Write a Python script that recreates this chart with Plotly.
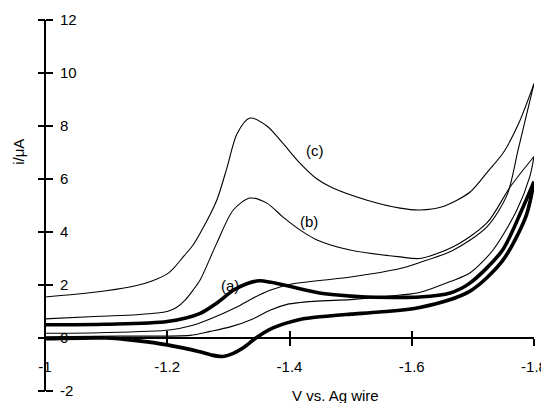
import plotly.graph_objects as go

# ---- data (V vs. Ag wire, current in microamps) ----
c_fwd_v = [-1.00, -1.05, -1.10, -1.15, -1.175, -1.20, -1.213, -1.226, -1.242, -1.254, -1.281, -1.298,
           -1.314, -1.335, -1.363, -1.389, -1.417, -1.445, -1.471, -1.527, -1.581, -1.613, -1.65,
           -1.695, -1.725, -1.75, -1.775, -1.80]
c_fwd_i = [1.55, 1.65, 1.78, 1.98, 2.15, 2.42, 2.7, 3.06, 3.5, 3.96, 5.2, 6.45,
           7.7, 8.3, 8.0, 7.35, 6.6, 6.0, 5.66, 5.2, 4.9, 4.83, 4.95,
           5.5, 6.3, 7.0, 8.1, 9.6]
c_rev_v = [-1.80, -1.774, -1.756, -1.723, -1.667, -1.613, -1.581, -1.50, -1.45, -1.40, -1.368,
           -1.34, -1.314, -1.27, -1.237, -1.204, -1.09, -1.00]
c_rev_i = [9.6, 7.1, 5.4, 4.19, 3.3, 2.85, 2.62, 2.3, 2.17, 2.02, 1.8,
           1.5, 1.17, 0.72, 0.45, 0.3, 0.2, 0.18]

b_fwd_v = [-1.00, -1.09, -1.15, -1.20, -1.215, -1.23, -1.242, -1.254, -1.281, -1.308, -1.335,
           -1.363, -1.389, -1.417, -1.445, -1.499, -1.581, -1.613, -1.667, -1.723, -1.761, -1.80]
b_fwd_i = [0.72, 0.82, 0.88, 1.0, 1.15, 1.45, 1.8, 2.2, 3.58, 4.83, 5.28,
           5.09, 4.57, 4.08, 3.7, 3.32, 3.06, 3.0, 3.43, 4.34, 5.7, 6.85]
b_rev_v = [-1.80, -1.793, -1.772, -1.733, -1.695, -1.663, -1.613, -1.581, -1.50, -1.45, -1.417,
           -1.396, -1.368, -1.34, -1.303, -1.27, -1.237, -1.12, -1.00]
b_rev_i = [6.85, 6.08, 4.83, 3.32, 2.45, 2.13, 1.72, 1.62, 1.45, 1.4, 1.34,
           1.27, 1.05, 0.72, 0.42, 0.25, 0.1, 0.07, 0.05]

a_fwd_v = [-1.00, -1.10, -1.20, -1.254, -1.28, -1.308, -1.33, -1.351, -1.37, -1.40, -1.449,
           -1.50, -1.526, -1.613, -1.663, -1.695, -1.748, -1.78, -1.80]
a_fwd_i = [0.5, 0.52, 0.62, 0.93, 1.3, 1.8, 2.05, 2.16, 2.1, 1.95, 1.7,
           1.58, 1.55, 1.55, 1.7, 2.07, 3.3, 4.83, 5.9]
a_rev_v = [-1.80, -1.787, -1.748, -1.694, -1.613, -1.547, -1.50, -1.449, -1.417, -1.396, -1.368,
           -1.345, -1.325, -1.308, -1.29, -1.272, -1.253, -1.20, -1.15, -1.10, -1.00]
a_rev_i = [5.9, 4.6, 2.9, 1.75, 1.15, 0.98, 0.9, 0.8, 0.7, 0.57, 0.33,
           0.0, -0.36, -0.58, -0.7, -0.64, -0.52, -0.26, -0.1, 0.0, -0.03]

x_ticks = [-1.0, -1.2, -1.4, -1.6, -1.8]
x_ticktext = ["-1", "-1.2", "-1.4", "-1.6", "-1.8"]
y_ticks = [-2, 0, 2, 4, 6, 8, 10, 12]
y_ticktext = ["-2", "0", "2", "4", "6", "8", "10", "12"]

labels = ["(a)", "(b)", "(c)"]
label_v = [-1.303, -1.432, -1.441]
label_i = [2.0, 4.4, 7.07]

FONT = "Liberation Sans, Arial, sans-serif"
X_RANGE = [-1.0, -1.8]
Y_RANGE = [-2, 12]
Y0_POS = (0 - Y_RANGE[0]) / (Y_RANGE[1] - Y_RANGE[0])

fig = go.Figure()

thin = dict(color="black", width=1.1, shape="spline", smoothing=0.8)
thick = dict(color="black", width=3.6, shape="spline", smoothing=0.8)

for vv, ii in [(c_fwd_v, c_fwd_i), (c_rev_v, c_rev_i), (b_fwd_v, b_fwd_i), (b_rev_v, b_rev_i)]:
    fig.add_trace(go.Scatter(x=vv, y=ii, mode="lines", line=thin, hoverinfo="skip"))
fig.add_trace(go.Scatter(x=a_fwd_v, y=a_fwd_i, mode="lines", line=thick, hoverinfo="skip"))
fig.add_trace(go.Scatter(x=a_rev_v, y=a_rev_i, mode="lines", line=thick, hoverinfo="skip",
                         xaxis="x2", yaxis="y2"))

for t, vv, ii in zip(labels, label_v, label_i):
    fig.add_annotation(x=vv, y=ii, text=t, showarrow=False,
                       font=dict(family=FONT, size=15, color="black"))

axis_common = dict(showgrid=False, zeroline=False, color="black", automargin=False,
                   ticklabeloverflow="allow")

# the page body has an 8px margin: the figure is made 8px smaller to sit inside the window
fig.update_layout(
    width=541, height=395,
    margin=dict(l=37, r=15, t=12, b=12),
    paper_bgcolor="white", plot_bgcolor="white",
    showlegend=False,
    font=dict(family=FONT, size=15, color="black"),
    xaxis=dict(range=X_RANGE, tickvals=x_ticks, ticktext=x_ticktext,
               anchor="free", position=Y0_POS,
               showline=True, linewidth=2, linecolor="black",
               ticks="outside", ticklen=7, tickwidth=2, tickcolor="black",
               ticklabelstandoff=8,
               tickfont=dict(family=FONT, size=15, color="black"),
               **axis_common),
    xaxis2=dict(range=X_RANGE, tickvals=x_ticks, overlaying="x",
                anchor="free", position=Y0_POS,
                showline=False, showticklabels=False,
                ticks="inside", ticklen=7, tickwidth=2, tickcolor="black",
                **axis_common),
    # right-side axis placed at the left edge: labels and outward ticks point right
    yaxis=dict(range=Y_RANGE, tickvals=y_ticks, ticktext=y_ticktext,
               anchor="free", position=0, side="right",
               showline=True, linewidth=2, linecolor="black",
               ticks="outside", ticklen=7, tickwidth=2, tickcolor="black",
               ticklabelstandoff=4,
               tickfont=dict(family=FONT, size=15, color="black"),
               **axis_common),
    yaxis2=dict(range=Y_RANGE, tickvals=y_ticks, overlaying="y",
                anchor="free", position=0, side="left",
                showline=False, showticklabels=False,
                ticks="outside", ticklen=7, tickwidth=2, tickcolor="black",
                **axis_common),
)

# axis titles
fig.add_annotation(xref="x", yref="paper", x=-1.4, y=-0.011, text="V vs. Ag wire",
                   showarrow=False, xanchor="left", yanchor="middle",
                   font=dict(family=FONT, size=15, color="black"))
fig.add_annotation(xref="paper", yref="paper", x=-0.053, y=0.645, text="i/\u03bcA",
                   textangle=-90, showarrow=False, xanchor="center", yanchor="middle",
                   font=dict(family=FONT, size=15, color="black"))

fig.write_html("out.html")
